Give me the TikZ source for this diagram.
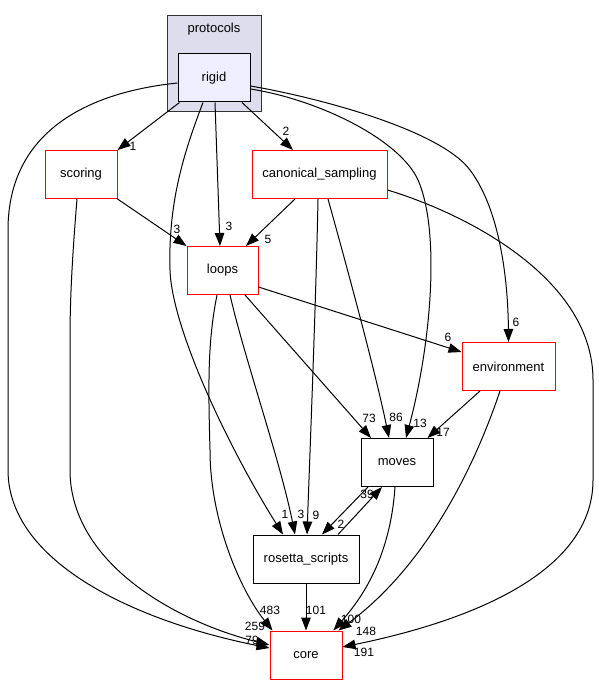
\documentclass[tikz,border=0pt]{standalone}
\usepackage{fontspec}
\setmainfont{Liberation Sans}
\usetikzlibrary{arrows.meta}
\definecolor{clfill}{RGB}{221,221,238}
\definecolor{clline}{RGB}{51,51,51}
\definecolor{rigidfill}{RGB}{238,238,255}
\begin{document}
\begin{tikzpicture}[x=1pt,y=-1pt,
  box/.style={draw=black,line width=1pt,fill=white,minimum height=48pt,inner sep=0pt,font=\fontsize{13}{15}\selectfont},
  redbox/.style={box,draw=red},
  e/.style={line width=1pt,-{Triangle[length=13pt,width=9.5pt]}},
  lbl/.style={font=\fontsize{12}{14}\selectfont,inner sep=0pt}]
\useasboundingbox (0,0) rectangle (598,684);
% cluster
\node[draw=clline,fill=clfill,line width=1pt,minimum width=94pt,minimum height=96pt,inner sep=0pt] (cl) at (214,64) {};
\node[font=\fontsize{13}{15}\selectfont,inner sep=0pt] (cltitle) at (214,29) {protocols};
% nodes
\node[box,fill=rigidfill,minimum width=72pt] (rigid) at (214,78) {rigid};
\node[redbox,minimum width=72pt] (scoring) at (81,174.5) {scoring};
\node[redbox,minimum width=135pt] (canon) at (319.5,174.5) {canonical\_sampling};
\node[redbox,minimum width=71pt] (loops) at (222.5,270.5) {loops};
\node[redbox,minimum width=93pt] (env) at (508.5,366.5) {environment};
\node[box,minimum width=72pt] (moves) at (397,462.5) {moves};
\node[box,minimum width=106pt] (rosetta) at (306,559) {rosetta\_scripts};
\node[redbox,minimum width=72pt] (core) at (306,655) {core};
% edges from rigid
\draw[e] ([xshift=2pt]rigid.south west) -- (scoring.north east);
\draw[e] ([xshift=1pt]rigid.south) -- ([xshift=-2.5pt]loops.north);
\draw[e] ([xshift=28pt]rigid.south) -- ([xshift=-26.5pt]canon.north);
\draw[e] ([yshift=-5pt]rigid.west) .. controls (90,92) and (8,130) .. (8,230) -- (8,470)
   .. controls (8,560) and (130,620) .. ([yshift=7pt]core.west);
\draw[e] ([xshift=-11pt]rigid.south) .. controls (185,150) and (168,200) .. (170,270)
   .. controls (172,330) and (230,450) .. ([xshift=-23pt]rosetta.north);
\draw[e] ([yshift=-8pt]rigid.east) .. controls (320,98) and (440,130) .. (470,170)
   .. controls (500,210) and (508,280) .. (env.north);
\draw[e] ([yshift=-11pt]rigid.east) .. controls (320,100) and (400,140) .. (418,180)
   .. controls (440,230) and (432,340) .. ([xshift=9pt]moves.north);
% scoring
\draw[e] (scoring.south east) -- (loops.north west);
\draw[e] ([xshift=-4pt]scoring.south) .. controls (72,260) and (70,300) .. (70,340) -- (70,470)
   .. controls (70,560) and (170,620) .. ([yshift=10pt]core.west);
% canonical_sampling
\draw[e] ([xshift=-24.5pt]canon.south) -- ([xshift=23.5pt]loops.north);
\draw[e] ([xshift=-1.5pt]canon.south) .. controls (316,300) and (310,450) .. ([xshift=1pt]rosetta.north);
\draw[e] ([xshift=8.5pt]canon.south) .. controls (345,260) and (375,370) .. ([xshift=-8pt]moves.north);
\draw[e] ([yshift=-15.5pt]canon.east) .. controls (470,215) and (593,280) .. (593,380) -- (593,480)
   .. controls (593,580) and (450,625) .. ([yshift=8pt]core.east);
% loops
\draw[e] ([yshift=-16.5pt]loops.east) -- ([yshift=14.5pt]env.west);
\draw[e] ([xshift=22.5pt]loops.south) -- ([xshift=-26pt]moves.north);
\draw[e] ([xshift=7.5pt]loops.south) .. controls (245,360) and (280,460) .. ([xshift=-11pt]rosetta.north);
\draw[e] ([xshift=-5.5pt]loops.south) .. controls (208,340) and (208,380) .. (210,450)
   .. controls (210,520) and (240,590) .. ([xshift=3pt]core.north west);
% environment
\draw[e] ([xshift=-28.5pt]env.south) -- ([xshift=-6pt]moves.north east);
\draw[e] ([xshift=-8.5pt]env.south) .. controls (470,480) and (420,570) .. ([xshift=-4pt]core.north east);
% moves / rosetta_scripts
\draw[e] ([xshift=-29pt]moves.south) -- ([xshift=16pt]rosetta.north);
\draw[e] ([xshift=32pt]rosetta.north) -- ([xshift=-15pt]moves.south);
\draw[e] ([xshift=-2pt]moves.south) .. controls (390,560) and (360,600) .. ([xshift=-9pt]core.north east);
\draw[e] (rosetta.south) -- (core.north);
% labels
\node[lbl] (l1) at (133,146) {1};
\node[lbl] (l2) at (229,226) {3};
\node[lbl] (l3) at (286,131) {2};
\node[lbl] (l4) at (177,229) {3};
\node[lbl] (l5) at (268,239) {5};
\node[lbl] (l6) at (448,337) {6};
\node[lbl] (l7) at (516,322) {6};
\node[lbl] (l8) at (369,418) {73};
\node[lbl] (l9) at (396,417) {86};
\node[lbl] (l10) at (420,423) {13};
\node[lbl] (l11) at (443,432) {17};
\node[lbl] (l12) at (367,494) {39};
\node[lbl] (l13) at (341,524) {2};
\node[lbl] (l14) at (285,514) {1};
\node[lbl] (l15) at (301,514) {3};
\node[lbl] (l16) at (316,515) {9};
\node[lbl] (l17) at (270,610) {483};
\node[lbl] (l18) at (316,610) {101};
\node[lbl] (l19) at (255,626) {259};
\node[lbl] (l20) at (252,640) {79};
\node[lbl] (l21) at (351,619) {100};
\node[lbl] (l22) at (366,631) {148};
\node[lbl] (l23) at (364,652) {191};
\end{tikzpicture}
\end{document}
